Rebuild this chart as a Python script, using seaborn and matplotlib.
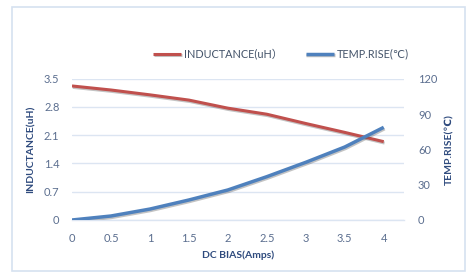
import matplotlib
matplotlib.use("Agg")
import matplotlib.pyplot as plt
import matplotlib.patheffects as pe
from matplotlib.patches import Rectangle
import seaborn as sns
import pandas as pd

dc_bias = [0, 0.5, 1, 1.5, 2, 2.5, 3, 3.5, 4]
inductance = [3.32, 3.22, 3.10, 2.97, 2.77, 2.62, 2.39, 2.17, 1.94]
temp_rise = [0, 3.4, 9.3, 17, 25.5, 36.8, 49, 62, 78.7]
left_ticks = [0, 0.7, 1.4, 2.1, 2.8, 3.5]
left_tick_labels = ["0", "0.7", "1.4", "2.1", "2.8", "3.5"]
right_ticks = [0, 30, 60, 90, 120]
x_tick_labels = ["0", "0.5", "1", "1.5", "2", "2.5", "3", "3.5", "4"]

df = pd.DataFrame({"x": dc_bias, "ind": inductance, "temp": temp_rise})

sns.set_style("white")
FAM = ["Lato", "DejaVu Sans", "Noto Sans CJK SC"]
plt.rcParams["font.family"] = FAM

RED = "#C0504D"
BLUE = "#4F81BD"
TICK_C = "#5B6E8F"
LABEL_C = "#2E4A7D"
GRID_C = "#DCE5F2"

W, H = 467, 272
fig = plt.figure(figsize=(W / 100, H / 100), dpi=100)
ax = fig.add_axes([72 / W, 1 - 220 / H, (404 - 72) / W, (220 - 78.7) / H])
ax2 = ax.twinx()

shadow = [pe.SimpleLineShadow(offset=(0.6, -1.0), shadow_color="#555555", alpha=0.35), pe.Normal()]

sns.lineplot(data=df, x="x", y="ind", ax=ax, color=RED, linewidth=2.2,
             label="INDUCTANCE(uH\uff09", legend=False)
sns.lineplot(data=df, x="x", y="temp", ax=ax2, color=BLUE, linewidth=2.5,
             label="TEMP.RISE(\u2103)", legend=False)
for line in ax.get_lines() + ax2.get_lines():
    line.set_path_effects(shadow)
    line.set_solid_capstyle("butt")

ax.set_xlim(0, 4.26)
ax.set_ylim(0, 3.5)
ax2.set_ylim(0, 120)
ax.set_xticks(dc_bias)
ax.set_xticklabels(x_tick_labels)
ax.set_yticks(left_ticks)
ax.set_yticklabels(left_tick_labels)
ax2.set_yticks(right_ticks)

for a in (ax, ax2):
    for s in a.spines.values():
        s.set_visible(False)
ax.spines["bottom"].set_visible(True)
ax.spines["bottom"].set_color(GRID_C)
ax.spines["bottom"].set_linewidth(1.0)

ax.grid(axis="y", color=GRID_C, linewidth=1.0)
ax.set_axisbelow(True)

ax.tick_params(axis="x", colors=TICK_C, labelsize=8, length=4, width=1, direction="out", pad=5)
ax.tick_params(axis="x", color=GRID_C)
ax.tick_params(axis="y", colors=TICK_C, labelsize=8, length=0, pad=9)
ax2.tick_params(axis="y", colors=TICK_C, labelsize=8, length=0, pad=10)

ax.set_xlabel("DC BIAS(Amps)", fontsize=7.5, fontweight="bold", color=LABEL_C, labelpad=5)
ax.set_ylabel("INDUCTANCE(uH)", fontsize=7.5, fontweight="bold", color=LABEL_C, labelpad=6)
ax2.set_ylabel("TEMP.RISE(\u2103)", fontsize=7.5, fontweight="bold", color=LABEL_C, labelpad=6,
               rotation=90, family=FAM)

handles = ax.get_lines()[:1] + ax2.get_lines()[:1]
leg = fig.legend(handles, [h.get_label() for h in handles], loc="center",
                 bbox_to_anchor=(281 / W, 1 - 54 / H), ncol=2, frameon=False,
                 fontsize=7.8, handlelength=2.6, columnspacing=2.1, handletextpad=0.3,
                 labelcolor="#44546A")
for t in leg.get_texts():
    t.set_family(FAM)

fig.patches.append(Rectangle((12 / W, 1 / H), (465 - 12) / W, (265 - 1) / H,
                             transform=fig.transFigure, fill=False,
                             edgecolor="#D6E1F0", linewidth=1.2))

fig.savefig("out.png", dpi=100, facecolor="white")
